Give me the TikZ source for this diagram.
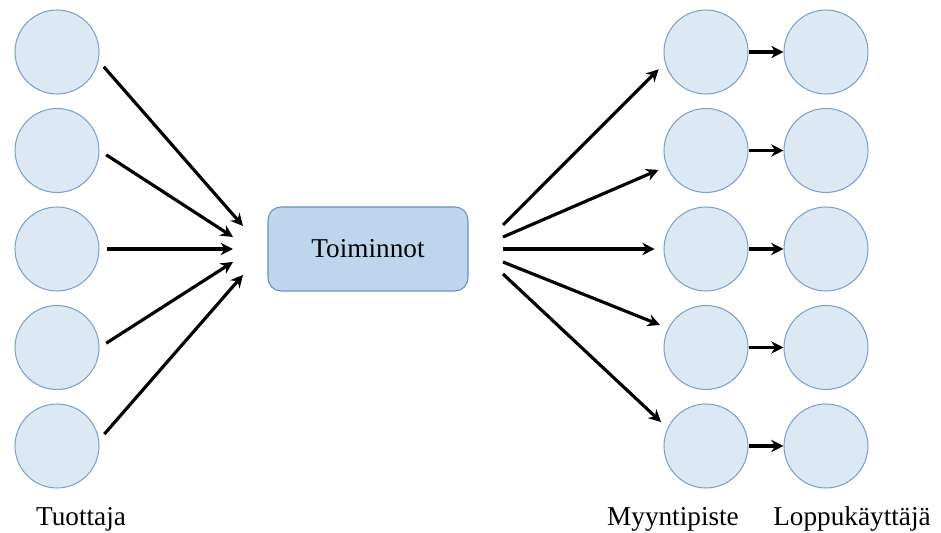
\documentclass[tikz,border=0pt]{standalone}
\usepackage{fontspec}
\setmainfont{Liberation Serif}
\usepackage{xcolor}
\usetikzlibrary{arrows.meta,positioning}
\definecolor{kreisfill}{HTML}{DDE8F5}
\definecolor{kreisrand}{HTML}{7FA0C6}
\definecolor{kastenfill}{HTML}{BDD6EE}
\definecolor{kastenrand}{HTML}{6C8EBF}
\tikzset{
	kreis/.style={
			circle, draw=kreisrand, fill=kreisfill, line width=0.6pt,
			minimum size=1.68cm, inner sep=0pt
		},
	kasten/.style={
			rectangle, rounded corners=0.26cm, draw=kastenrand, fill=kastenfill,
			line width=0.6pt, minimum width=4cm, minimum height=1.68cm,
			font=\fontsize{15.5pt}{18pt}\selectfont
		},
	pfeil/.style={
			line width=1.8pt, -{Stealth[length=7pt,width=7pt]}
		},
	beschriftung/.style={
			font=\fontsize{15.5pt}{18pt}\selectfont, inner sep=0pt
		}
}

\begin{document}
\begin{tikzpicture}[x=0.02cm, y=-0.02cm]
        \useasboundingbox (0,0) rectangle (941,533);
        % Kreise zeichnen
        \foreach \i/\y in {1/52,2/150.5,3/249,4/347.5,5/446}{
            \node[kreis] (t\i) at (57,\y) {};
            \node[kreis] (m\i) at (706,\y) {};
            \node[kreis] (k\i) at (826,\y) {};
        }
        % Kasten in der Mitte
        \node[kasten] (toim) at (368,249) {Toiminnot};
        % Punkte am Kasten
        \coordinate (in1) at (243,226);
        \coordinate (in2) at (233,237);
        \coordinate (in3) at (233,249);
        \coordinate (in4) at (233,262);
        \coordinate (in5) at (243,275);
        \coordinate (out1) at (503,225);
        \coordinate (out2) at (503,237);
        \coordinate (out3) at (503,249);
        \coordinate (out4) at (503,262);
        \coordinate (out5) at (503,274);
        % Pfeile zeichnen
        \draw[pfeil, shorten <=4.5pt] (t1.-12) -- (in1);
        \draw[pfeil, shorten <=4.5pt] (t2.east) -- (in2);
        \draw[pfeil, shorten <=4.5pt] (t3.east) -- (in3);
        \draw[pfeil, shorten <=4.5pt] (t4.east) -- (in4);
        \draw[pfeil, shorten <=4.5pt] (t5.8) -- (in5);
        \draw[pfeil, shorten >=5pt] (out1) -- (m1.195);
        \draw[pfeil, shorten >=5pt] (out2) -- (m2.202);
        \draw[pfeil, shorten >=5pt] (out3) -- (m3.west);
        \draw[pfeil, shorten >=5pt] (out4) -- (m4.153);
        \draw[pfeil, shorten >=5pt] (out5) -- (m5.155);
        \foreach \i in {1,...,5}
            \draw[pfeil] (m\i) -- (k\i);
        % Beschriftungen
        \node[beschriftung] (tuot) at (81,519) {Tuottaja};
        \node[beschriftung] (myyn) at (673,519) {Myyntipiste};
        \node[beschriftung] (lopp) at (852,519) {Loppukäyttäjä};
    \end{tikzpicture}
\end{document}
